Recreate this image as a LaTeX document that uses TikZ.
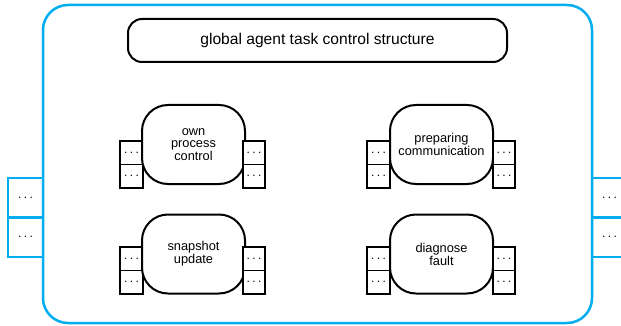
\documentclass[tikz,border=0pt]{standalone}
\usepackage{fontspec}
\setmainfont{Liberation Sans}
\definecolor{cyanb}{RGB}{0,174,239}
\newcommand{\mydots}{.\hspace{2.4pt}.\hspace{2.4pt}.}
\begin{document}
\begin{tikzpicture}[x=1pt,y=-1pt,
  outerbox/.style={draw=cyanb, line width=2.5pt, rounded corners=25pt, minimum width=549pt, minimum height=318pt, inner sep=0pt},
  titlebox/.style={draw, line width=2pt, rounded corners=14pt, minimum width=379pt, minimum height=43pt, inner sep=0pt, font=\fontsize{15.6}{18}\selectfont},
  proc/.style={draw, fill=white, line width=2pt, rounded corners=26pt, minimum width=103pt, minimum height=79pt, inner sep=0pt, align=center, font=\fontsize{12.8}{11.8}\selectfont},
  port/.style={draw, fill=white, line width=1.8pt, minimum width=22.5pt, minimum height=23.5pt, inner sep=0pt, font=\fontsize{12}{12}\selectfont},
  oport/.style={draw=cyanb, line width=2.5pt, minimum width=35pt, minimum height=39.5pt, inner sep=0pt, font=\fontsize{12}{12}\selectfont}
]
\useasboundingbox (0,0) rectangle (621,326);
\clip (0,0) rectangle (621,326);
\node[outerbox] (outer) at (317.5,164) {};
\node[oport] (ol1) at (25.5,197.75) {\mydots};
\node[oport] (ol2) at (25.5,237.25) {\mydots};
\node[oport] (or1) at (609.5,197.75) {\mydots};
\node[oport] (or2) at (609.5,237.25) {\mydots};
\node[titlebox] (title) at (317.5,40.5) {global agent task control structure};
% top-left
\node[port] (a1) at (131.5,152.75) {\mydots};
\node[port] (a2) at (131.5,176.25) {\mydots};
\node[proc] (own) at (193.5,144.5) {own\\process\\control};
\node[port] (a3) at (254,152.75) {\mydots};
\node[port] (a4) at (254,176.25) {\mydots};
% top-right
\node[port] (b1) at (378.5,152.75) {\mydots};
\node[port] (b2) at (378.5,176.25) {\mydots};
\node[proc] (prep) at (441.5,144.5) {preparing\\communication};
\node[port] (b3) at (504,152.75) {\mydots};
\node[port] (b4) at (504,176.25) {\mydots};
% bottom-left
\node[port] (c1) at (131.5,258.75) {\mydots};
\node[port] (c2) at (131.5,282.25) {\mydots};
\node[proc] (snap) at (193.5,254) {snapshot\\update};
\node[port] (c3) at (254,258.75) {\mydots};
\node[port] (c4) at (254,282.25) {\mydots};
% bottom-right
\node[port] (d1) at (378.5,258.75) {\mydots};
\node[port] (d2) at (378.5,282.25) {\mydots};
\node[proc] (diag) at (441.5,254) {diagnose\\fault};
\node[port] (d3) at (504,258.75) {\mydots};
\node[port] (d4) at (504,282.25) {\mydots};
\end{tikzpicture}
\end{document}
